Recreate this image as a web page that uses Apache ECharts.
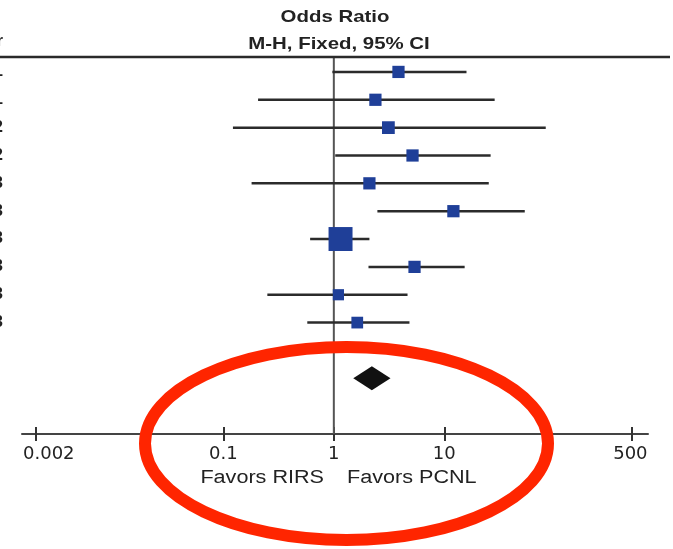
<!DOCTYPE html>
<html><head><meta charset="utf-8">
<script src="https://cdn.jsdelivr.net/npm/echarts@6/dist/echarts.min.js"></script>
<style>html,body{margin:0;padding:0;background:#fff}#c{width:673px;height:549px}</style>
</head><body><div id="c"></div>
<script>
// ---- data ----
const studyYears = ['2011', '2011', '2012', '2012', '2013', '2013', '2013', '2013', '2013', '2013'];
const oddsRatio  = [3.85, 2.38, 3.12, 5.16, 2.10, 12.1, 1.15, 5.38, 1.10, 1.63];
const ciLower    = [0.97, 0.206, 0.122, 1.03, 0.18, 2.48, 0.61, 2.06, 0.25, 0.575];
const ciUpper    = [15.9, 28.6, 83.0, 26.3, 25.3, 53.6, 2.10, 15.3, 4.65, 4.84];
const weights    = [6, 6, 6.5, 6, 6, 6, 23, 6, 5, 5.5];
const pooledOR   = [1.50, 2.21, 3.26]; // lower, estimate, upper
const tickValues = [0.002, 0.1, 1, 10, 500];
const favorsLabels = ['Favors RIRS', 'Favors PCNL'];
const headerTitle = ['Odds Ratio', 'M-H, Fixed, 95% CI'];

const lg = Math.log10;
const pooledRow = oddsRatio.length + 1;
const studyData = oddsRatio.map((v, i) => [i, lg(ciLower[i]), lg(v), lg(ciUpper[i]), weights[i]]);
const pooledData = [[pooledRow, lg(pooledOR[0]), lg(pooledOR[1]), lg(pooledOR[2])]];
const tickLogs = tickValues.map(lg);
const fmtNum = v => String(Number(Math.pow(10, v).toPrecision(6)));
const fmt = (v) => {
  const s = fmtNum(v);
  if (Math.abs(v - tickLogs[0]) < 1e-6) return '{l|' + s + '}';
  if (Math.abs(v - tickLogs[tickLogs.length - 1]) < 1e-6) return '{r|' + s + '}';
  return s;
};

const FONT = '"Liberation Sans", Arial, sans-serif';
const TFONT = '"DejaVu Sans", sans-serif';
const xMin = lg(0.0015), xMax = lg(700);

const chart = echarts.init(document.getElementById('c'), null, {renderer: 'canvas'});
chart.setOption({
  animation: false,
  backgroundColor: '#fff',
  grid: {left: 22, right: 25, top: 58, bottom: 115, containLabel: false, outerBoundsMode: 'none'},
  xAxis: [{
    type: 'value', position: 'bottom', min: xMin, max: xMax,
    splitLine: {show: false},
    axisLine: {show: true, onZero: false, lineStyle: {color: '#444', width: 2}},
    axisTick: {show: true, customValues: tickLogs, length: 7, lineStyle: {color: '#333', width: 2}},
    axisLabel: {show: true, customValues: tickLogs, formatter: fmt, margin: 11,
      fontSize: 18, color: '#222', fontFamily: TFONT,
      rich: {
        l: {padding: [0, 0, 0, 26], fontSize: 18, color: '#222', fontFamily: TFONT},
        r: {padding: [0, 3, 0, 0], fontSize: 18, color: '#222', fontFamily: TFONT}
      }}
  }, {
    type: 'value', position: 'bottom', min: xMin, max: xMax,
    splitLine: {show: false}, axisLine: {show: false, onZero: false}, axisLabel: {show: false},
    axisTick: {show: true, inside: true, customValues: tickLogs, length: 7, lineStyle: {color: '#333', width: 2}}
  }],
  yAxis: {
    type: 'value', inverse: true, min: -0.5, max: 13,
    splitLine: {show: false}, axisLine: {show: false, onZero: false}, axisTick: {show: false},
    axisLabel: {show: true, customValues: studyYears.map((y, i) => i),
      formatter: v => studyYears[Math.round(v)] || '', margin: 19,
      fontSize: 16, fontWeight: 'bold', color: '#222', fontFamily: FONT}
  },
  series: [{
    type: 'line', z: 1, symbol: 'none', silent: true,
    data: [[0, -0.5], [0, 13]],
    lineStyle: {color: '#555', width: 2}
  }, {
    type: 'custom', z: 3,
    encode: {x: [1, 2, 3], y: 0},
    data: studyData,
    renderItem: function (params, api) {
      const y = api.value(0);
      const lo = api.coord([api.value(1), y]);
      const est = api.coord([api.value(2), y]);
      const hi = api.coord([api.value(3), y]);
      const s = 5 * Math.sqrt(api.value(4));
      return {type: 'group', children: [
        {type: 'line', shape: {x1: lo[0], y1: lo[1], x2: hi[0], y2: hi[1]},
          style: {stroke: '#2b2b2b', lineWidth: 2.5}},
        {type: 'rect', shape: {x: est[0] - s / 2, y: est[1] - s / 2, width: s, height: s},
          style: {fill: '#1f3f98'}}
      ]};
    }
  }, {
    type: 'custom', z: 3,
    encode: {x: [1, 2, 3], y: 0},
    data: pooledData,
    renderItem: function (params, api) {
      const y = api.value(0);
      const lo = api.coord([api.value(1), y]);
      const est = api.coord([api.value(2), y]);
      const hi = api.coord([api.value(3), y]);
      return {type: 'polygon', shape: {points: [[lo[0], lo[1]], [est[0], est[1] - 12], [hi[0], hi[1]], [est[0], est[1] + 12]]},
        style: {fill: '#111'}};
    }
  }],
  graphic: [
    {type: 'line', z: 5, shape: {x1: 0, y1: 57, x2: 670, y2: 57}, style: {stroke: '#2a2a2a', lineWidth: 2.5}},
    {type: 'text', z: 5, x: 335, y: 17, scaleX: 1.2,
      style: {text: headerTitle[0], font: 'bold 17px ' + FONT, textAlign: 'center', align: 'center',
        textVerticalAlign: 'middle', verticalAlign: 'middle', fill: '#222'}},
    {type: 'text', z: 5, x: 339, y: 44, scaleX: 1.2,
      style: {text: headerTitle[1], font: 'bold 17px ' + FONT, textAlign: 'center', align: 'center',
        textVerticalAlign: 'middle', verticalAlign: 'middle', fill: '#222'}},
    {type: 'text', z: 5, x: 3, y: 42,
      style: {text: 'Year', font: 'bold 16px ' + FONT, textAlign: 'right', align: 'right',
        textVerticalAlign: 'middle', verticalAlign: 'middle', fill: '#222'}},
    {type: 'text', z: 5, x: 324, y: 478, scaleX: 1.2,
      style: {text: favorsLabels[0], font: '18px ' + FONT, textAlign: 'right', align: 'right',
        textVerticalAlign: 'middle', verticalAlign: 'middle', fill: '#222'}},
    {type: 'text', z: 5, x: 347, y: 478, scaleX: 1.2,
      style: {text: favorsLabels[1], font: '18px ' + FONT, textAlign: 'left', align: 'left',
        textVerticalAlign: 'middle', verticalAlign: 'middle', fill: '#222'}},
    {type: 'ellipse', z: 100, shape: {cx: 346.5, cy: 443.5, rx: 201.5, ry: 96.5},
      style: {fill: 'transparent', stroke: '#ff2500', lineWidth: 12}}
  ]
});
</script>
</body></html>
